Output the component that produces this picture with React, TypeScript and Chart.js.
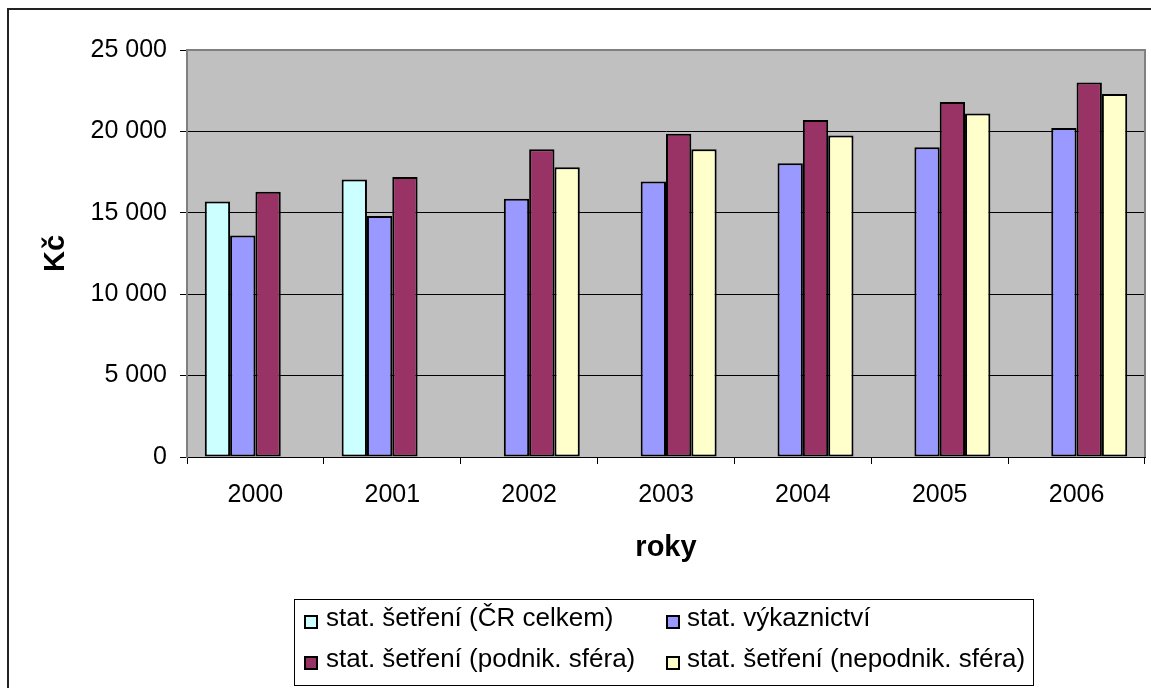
import React, { useEffect, useRef } from "react";
import { Chart, registerables } from "chart.js";

Chart.register(...registerables);

const categories = ["2000", "2001", "2002", "2003", "2004", "2005", "2006"];
const seriesLabels = [
  "stat. šetření (ČR celkem)",
  "stat. výkaznictví",
  "stat. šetření (podnik. sféra)",
  "stat. šetření (nepodnik. sféra)",
];
const crCelkem = [15700, 17050, null, null, null, null, null];
const vykaznictvi = [13600, 14800, 15870, 16920, 18040, 19030, 20210];
const podnikSfera = [16300, 17200, 18900, 19850, 20700, 21800, 23000];
const nepodnikSfera = [null, null, 17800, 18900, 19750, 21100, 22300];
const seriesColors = ["#CCFFFF", "#9999FF", "#993366", "#FFFFCC"];
const yTicks = [0, 5000, 10000, 15000, 20000, 25000];
const yTitle = "Kč";
const xTitle = "roky";

const FONT = "'Liberation Sans', Arial, sans-serif";

function fmt(v: number) {
  return String(v).replace(/\B(?=(\d{3})+(?!\d))/g, " ");
}

const framePlugin = {
  id: "framePlugin",
  beforeDraw(chart: any) {
    const { ctx, chartArea } = chart;
    ctx.save();
    ctx.fillStyle = "#FFFFFF";
    ctx.fillRect(0, 0, chart.width, chart.height);
    ctx.fillStyle = "#C0C0C0";
    ctx.fillRect(chartArea.left, chartArea.top, chartArea.right - chartArea.left, chartArea.bottom - chartArea.top);
    ctx.fillStyle = "#222";
    ctx.fillRect(7, 8, chart.width - 7, 2);
    ctx.fillRect(7, 8, 2, chart.height - 8);
    ctx.restore();
  },
  afterDatasetsDraw(chart: any) {
    const { ctx, chartArea } = chart;
    ctx.save();
    ctx.strokeStyle = "#808080";
    ctx.lineWidth = 2;
    ctx.beginPath();
    ctx.moveTo(chartArea.left, chartArea.top);
    ctx.lineTo(chartArea.right, chartArea.top);
    ctx.lineTo(chartArea.right, chartArea.bottom);
    ctx.stroke();
    ctx.restore();
  },
  afterDraw(chart: any) {
    const { ctx } = chart;
    ctx.save();
    ctx.strokeStyle = "#000";
    ctx.lineWidth = 1;
    ctx.strokeRect(294.5, 599.5, 739, 86);
    const cols = [304, 666];
    const rows = [615, 656];
    const textX = [326, 687];
    const baselines = [626, 667];
    ctx.font = `26px ${FONT}`;
    ctx.textBaseline = "alphabetic";
    ctx.textAlign = "left";
    chart.data.datasets.forEach((ds: any, i: number) => {
      const c = i % 2;
      const r = Math.floor(i / 2);
      ctx.fillStyle = "#000";
      ctx.fillRect(cols[c], rows[r], 14, 14);
      ctx.fillStyle = ds.backgroundColor;
      ctx.fillRect(cols[c] + 2, rows[r] + 2, 10, 10);
      ctx.fillStyle = "#000";
      ctx.fillText(ds.label, textX[c], baselines[r]);
    });
    ctx.restore();
  },
};

export default function App() {
  const ref = useRef<HTMLCanvasElement | null>(null);
  useEffect(() => {
    if (!ref.current) return;
    const data = [crCelkem, vykaznictvi, podnikSfera, nepodnikSfera];
    const chart = new Chart(ref.current, {
      type: "bar",
      data: {
        labels: categories,
        datasets: data.map((d, i) => ({
          label: seriesLabels[i],
          data: d,
          backgroundColor: seriesColors[i],
          borderColor: "#000",
          borderWidth: 2,
          borderSkipped: false,
          categoryPercentage: 0.74,
          barPercentage: 1.0,
        })),
      },
      options: {
        animation: false,
        responsive: false,
        devicePixelRatio: 1,
        events: [],
        layout: { padding: { left: 0, top: 50, right: 6, bottom: 0 } },
        plugins: {
          legend: { display: false },
          tooltip: { enabled: false },
          title: { display: false },
        },
        scales: {
          x: {
            offset: true,
            grid: {
              offset: true,
              drawOnChartArea: false,
              drawTicks: true,
              tickLength: 7,
              tickColor: "#000",
              color: "#000",
            },
            border: { display: true, color: "#000", width: 1 },
            ticks: {
              color: "#000",
              padding: 16,
              font: { family: FONT, size: 25 },
              maxRotation: 0,
              autoSkip: false,
            },
            title: {
              display: true,
              text: xTitle,
              color: "#000",
              font: { family: FONT, size: 29, weight: "bold" },
              padding: { top: 0, bottom: 122.6 },
            },
            afterFit: (s: any) => {
              s.height = 231;
            },
          },
          y: {
            min: 0,
            max: 25000,
            afterBuildTicks: (s: any) => {
              s.ticks = yTicks.map((v) => ({ value: v }));
            },
            grid: {
              color: (c: any) => (c.tick && c.tick.value === 25000 ? "#808080" : "#000"),
              lineWidth: 1,
              drawTicks: true,
              tickLength: 7,
              tickColor: "#000",
            },
            border: { display: true, color: "#808080", width: 2 },
            ticks: {
              color: "#000",
              padding: 13,
              font: { family: FONT, size: 25 },
              callback: (v: any) => fmt(Number(v)),
            },
            title: {
              display: true,
              text: yTitle,
              color: "#000",
              font: { family: FONT, size: 29, weight: "bold" },
              padding: { top: 38.6, bottom: 0 },
            },
            afterFit: (s: any) => {
              s.width = 187;
            },
          },
        },
      },
      plugins: [framePlugin],
    });
    return () => chart.destroy();
  }, []);
  return (
    <div style={{ position: "absolute", left: 0, top: 0, width: 1151, height: 688 }}>
      <canvas ref={ref} width={1151} height={688} style={{ width: 1151, height: 688, display: "block" }} />
    </div>
  );
}
